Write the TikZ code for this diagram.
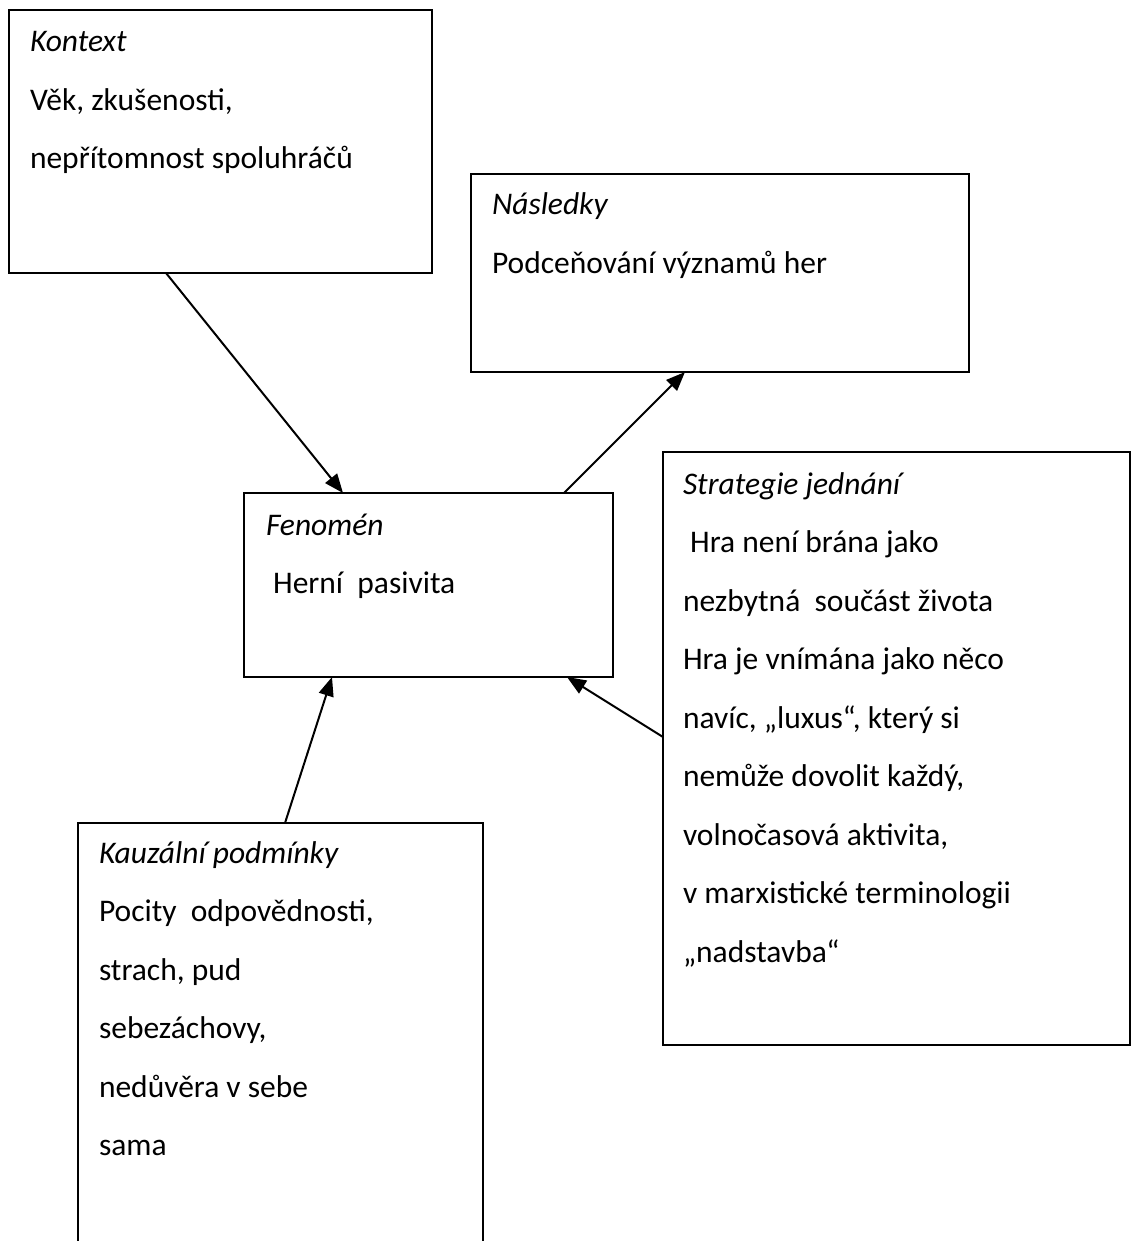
\documentclass[tikz,border=0pt]{standalone}
\usepackage{fontspec}
\setmainfont{Carlito}
\usetikzlibrary{arrows.meta}
\newcommand\boxlines[1]{\vtop{\baselineskip=58.5pt\lineskiplimit=-100pt\lineskip=0pt #1}}
\tikzset{
  frame/.style={draw=black, line width=1.8pt, rectangle, inner sep=0pt, outer sep=0pt, anchor=north west},
  txt/.style={inner sep=0pt, outer sep=0pt, anchor=base west, font=\fontsize{31.5}{58.5}\selectfont},
  arr/.style={draw=black, line width=2pt, -{Triangle[length=19pt,width=15pt]}}
}
\begin{document}
\begin{tikzpicture}[x=1pt,y=-1pt]
\useasboundingbox (0,0) rectangle (1137,1241);
\clip (0,0) rectangle (1137,1241);
% frames
\node[frame, minimum width=423pt, minimum height=263pt] (kon) at (9,10) {};
\node[frame, minimum width=498pt, minimum height=198pt] (nas) at (471,174) {};
\node[frame, minimum width=369pt, minimum height=184pt] (fen) at (244,493) {};
\node[frame, minimum width=467pt, minimum height=593pt] (str) at (663,452) {};
\node[frame, minimum width=405pt, minimum height=440pt] (kau) at (78,823) {};
% texts
\node[txt] (konT) at (30,52) {\boxlines{\hbox{\itshape Kontext}\hbox{Věk, zkušenosti,}\hbox{nepřítomnost spoluhráčů}}};
\node[txt] (nasT) at (492,215) {\boxlines{\hbox{\itshape Následky}\hbox{Podceňování významů her}}};
\node[txt] (fenT) at (266,535) {\boxlines{\hbox{\itshape Fenomén}\hbox{\ Herní\ \ pasivita}}};
\node[txt] (strT) at (683,494) {\boxlines{\hbox{\itshape Strategie jednání}\hbox{\ Hra není brána jako}\hbox{nezbytná\ \ součást života}\hbox{Hra je vnímána jako něco}\hbox{navíc, „luxus“, který si}\hbox{nemůže dovolit každý,}\hbox{volnočasová aktivita,}\hbox{v marxistické terminologii}\hbox{„nadstavba“}}};
\node[txt] (kauT) at (99,863) {\boxlines{\hbox{\itshape Kauzální podmínky}\hbox{Pocity\ \ odpovědnosti,}\hbox{strach, pud}\hbox{sebezáchovy,}\hbox{nedůvěra v sebe}\hbox{sama}}};
% connectors
\draw[arr] ([xshift=157pt]kon.south west) -- ([xshift=99pt]fen.north west);
\draw[arr] ([xshift=320pt]fen.north west) -- ([xshift=214pt]nas.south west);
\draw[arr] ([xshift=207pt]kau.north west) -- ([xshift=88pt]fen.south west);
\draw[arr] ([yshift=-285pt]str.north west) -- ([xshift=323pt]fen.south west);
\end{tikzpicture}
\end{document}
